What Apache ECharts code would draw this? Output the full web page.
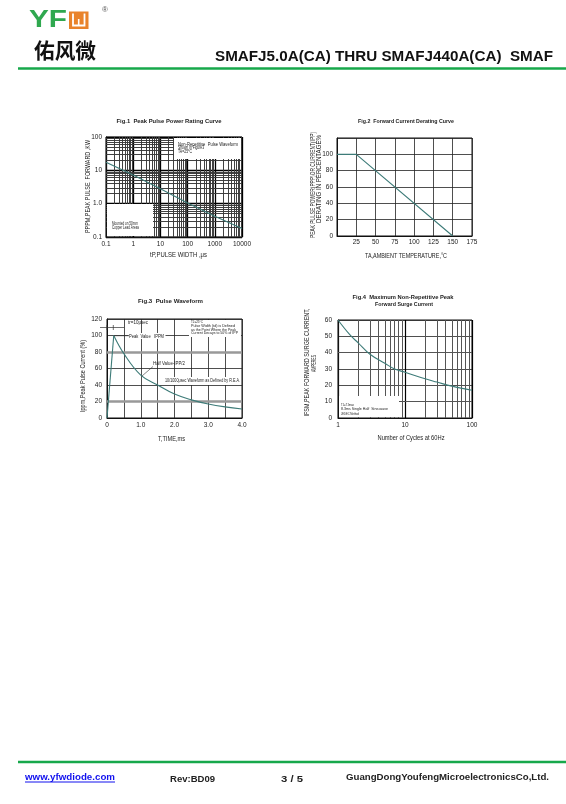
<!DOCTYPE html>
<html><head><meta charset="utf-8">
<script src="https://cdn.jsdelivr.net/npm/echarts@6/dist/echarts.min.js"></script>
<style>html,body{margin:0;padding:0;background:#fff}#c{width:566px;height:804px}</style>
</head><body><div id="c"></div>
<script>
// ---------------- data ----------------
const fig1PulseWidth = [0.1, 1, 10, 100, 1000, 10000];
const fig1PeakPower  = [17.5, 7.2, 2.8, 1.05, 0.42, 0.18];
const fig1XTicks = ['0.1', '1', '10', '100', '1000', '10000'];
const fig1YTicks = ['0.1', '1.0', '10', '100'];

const fig2Temp     = [0, 25, 150];
const fig2Derating = [100, 100, 0];
const fig2XTicks = ['', '25', '50', '75', '100', '125', '150', '175'];
const fig2YTicks = ['0', '20', '40', '60', '80', '100', ''];

const fig3Time    = [0, 0.2, 0.5, 1.0, 1.5, 2.0, 2.5, 3.0, 3.5, 4.0];
const fig3Current = [0, 100, 78, 52, 40, 29, 22, 17, 13.5, 11];
const fig3XTicks = ['0', '', '1.0', '', '2.0', '', '3.0', '', '4.0'];
const fig3YTicks = ['0', '20', '40', '60', '80', '100', '120'];

const fig4Cycles = [1, 1.5, 2, 3, 5, 7, 10, 20, 30, 50, 100];
const fig4Surge  = [60, 51, 46, 39, 33.5, 30, 28, 24, 22, 19.5, 17];
const fig4XTicks = ['1', '10', '100'];
const fig4YTicks = ['0', '10', '20', '30', '40', '50', '60'];

// ---------------- helpers ----------------
const FAM = '"Liberation Sans", Arial, sans-serif';
const CURVE = '#3d7b78';
const TXT = '#222';
const zip = (a, b) => a.map((v, i) => [v, b[i]]);
const logIdx = (v, minExp) => Math.round(Math.log10(v)) - minExp;
function logMinors(minExp, maxExp) {
  const out = [];
  for (let e = minExp; e < maxExp; e++)
    for (let k = 2; k <= 9; k++) out.push(+(k * Math.pow(10, e)).toPrecision(3));
  return out;
}
const mctx = document.createElement('canvas').getContext('2d');
function T(o) {
  const font = (o.bold ? 'bold ' : '') + o.size + 'px ' + (o.family || FAM);
  let sx = 1;
  if (o.w) { mctx.font = font; sx = o.w / mctx.measureText(o.text).width; }
  return {
    type: 'text', x: o.x, y: o.y, z: 101, silent: true,
    rotation: o.rot ? Math.PI / 2 : 0, scaleX: sx,
    style: { text: o.text, font: font, fill: o.color || TXT,
      align: o.align || 'center', verticalAlign: 'middle' }
  };
}
const R = (x, y, w, h, fill) => ({ type: 'rect', z: 100, silent: true,
  shape: { x, y, width: w, height: h }, style: { fill: fill || '#fff' } });
const L = (x1, y1, x2, y2, c, w) => ({ type: 'line', z: 101, silent: true,
  shape: { x1, y1, x2, y2 }, style: { stroke: c || '#222', lineWidth: w || 0.7 } });

const label = (m, arr, fn) => ({ fontSize: 6.5, color: TXT, fontFamily: FAM, margin: m,
  formatter: fn || ((v, i) => arr[i] !== undefined ? arr[i] : '') });
const baseAxis = (extra) => Object.assign({
  axisLine: { show: true, lineStyle: { color: '#111', width: 1 } },
  axisTick: { show: false },
  splitLine: { show: true, lineStyle: { color: '#222', width: 0.8 } }
}, extra);
const mk = (items, color, width) => ({
  symbol: ['none', 'none'], silent: true, animation: false,
  label: { show: false }, emphasis: { disabled: true },
  lineStyle: { color, width, type: 'solid' }, data: items
});
const gridBox = (left, top, width, height) => ({ left, top, width, height,
  show: true, borderColor: '#111', borderWidth: 1, backgroundColor: 'transparent' });

// ---------------- option ----------------
const option = {
  animation: false,
  backgroundColor: '#fff',
  grid: [
    gridBox(106, 137, 136, 100),
    gridBox(337, 138, 135, 98),
    gridBox(107, 319, 135, 99),
    gridBox(338, 320, 134, 98)
  ],
  xAxis: [
    baseAxis({ type: 'log', gridIndex: 0, min: 0.1, max: 10000, splitNumber: 5,
      axisLabel: label(4, null, v => fig1XTicks[logIdx(v, -1)] || ''),
      splitLine: { show: true, lineStyle: { color: '#000', width: 1.3 } } }),
    baseAxis({ type: 'value', gridIndex: 1, min: 0, max: 175, interval: 25,
      axisLabel: label(3, fig2XTicks) }),
    baseAxis({ type: 'value', gridIndex: 2, min: 0, max: 4, interval: 0.5,
      axisLabel: label(4, fig3XTicks) }),
    baseAxis({ type: 'log', gridIndex: 3, min: 1, max: 100, splitNumber: 2,
      axisLabel: label(4, null, v => fig4XTicks[logIdx(v, 0)] || ''),
      splitLine: { show: true, lineStyle: { color: '#000', width: 1.2 } } })
  ],
  yAxis: [
    baseAxis({ type: 'log', gridIndex: 0, min: 0.1, max: 100, splitNumber: 3,
      axisLabel: label(4, null, v => fig1YTicks[logIdx(v, -1)] || ''),
      splitLine: { show: true, lineStyle: { color: '#000', width: 1.3 } } }),
    baseAxis({ type: 'value', gridIndex: 1, min: 0, max: 120, interval: 20,
      axisLabel: label(4, fig2YTicks) }),
    baseAxis({ type: 'value', gridIndex: 2, min: 0, max: 120, interval: 20,
      axisLabel: label(5, fig3YTicks) }),
    baseAxis({ type: 'value', gridIndex: 3, min: 0, max: 60, interval: 10,
      axisLabel: label(6, fig4YTicks) })
  ],
  series: [
    // grid helpers (minor log lines, grey bands)
    { type: 'line', xAxisIndex: 0, yAxisIndex: 0, data: [], z: 1,
      markLine: mk(logMinors(-1, 4).map(v => ({ xAxis: v }))
        .concat(logMinors(-1, 2).map(v => ({ yAxis: v }))), '#383838', 0.95) },
    { type: 'line', xAxisIndex: 3, yAxisIndex: 3, data: [], z: 1,
      markLine: mk(logMinors(0, 2).map(v => ({ xAxis: v }))
        .concat([{ yAxis: 40 }, [{ coord: [10, 10] }, { coord: [100, 10] }]]), '#555', 1) },
    { type: 'line', xAxisIndex: 2, yAxisIndex: 2, data: [], z: 1,
      markLine: mk([{ yAxis: 20 }, { yAxis: 80 }], '#999', 2.5) },
    // curves
    { type: 'line', xAxisIndex: 0, yAxisIndex: 0, data: zip(fig1PulseWidth, fig1PeakPower),
      symbol: 'none', z: 5, lineStyle: { color: CURVE, width: 1.1 } },
    { type: 'line', xAxisIndex: 1, yAxisIndex: 1, data: zip(fig2Temp, fig2Derating),
      symbol: 'none', z: 5, lineStyle: { color: CURVE, width: 1.1 } },
    { type: 'line', xAxisIndex: 2, yAxisIndex: 2, data: zip(fig3Time, fig3Current).slice(0, 2),
      symbol: 'none', z: 5, lineStyle: { color: CURVE, width: 1.1 } },
    { type: 'line', xAxisIndex: 2, yAxisIndex: 2, data: zip(fig3Time, fig3Current).slice(1),
      symbol: 'none', z: 5, smooth: 0.4, lineStyle: { color: CURVE, width: 1.1 } },
    { type: 'line', xAxisIndex: 3, yAxisIndex: 3, data: zip(fig4Cycles, fig4Surge),
      symbol: 'none', z: 5, smooth: 0.4, lineStyle: { color: CURVE, width: 1.1 } }
  ],
  graphic: { elements: [
    // header
    T({ text: 'YF', x: 29, y: 20.5, size: 23, bold: true, w: 38, align: 'left', color: '#2fa84f' }),
    R(69, 11.5, 19.5, 17.5, '#e9832b'),
    { type: 'polyline', z: 102, silent: true, shape: { points: [[73, 13.5], [73, 25.5], [84.5, 25.5], [84.5, 13.5]] },
      style: { stroke: '#fff', lineWidth: 1.8, fill: null } },
    L(78.7, 19, 78.7, 25.5, '#fff', 1.6),
    T({ text: '®', x: 105, y: 9.5, size: 8, color: '#555' }),
    T({ text: '佑风微', x: 34, y: 50.5, size: 21, bold: true, w: 62, align: 'left', family: '"Noto Sans CJK SC"', color: '#111' }),
    T({ text: 'SMAFJ5.0A(CA) THRU SMAFJ440A(CA)  SMAF', x: 553, y: 57, size: 14, bold: true, w: 338, align: 'right', color: '#111' }),
    L(18, 68.5, 566, 68.5, '#17a84b', 2.5),
    // footer
    L(18, 762, 566, 762, '#17a84b', 2.5),
    T({ text: 'www.yfwdiode.com', x: 25, y: 777.5, size: 9, bold: true, w: 90, align: 'left', color: '#1010ee' }),
    L(25, 782, 115, 782, '#1010ee', 1),
    T({ text: 'Rev:BD09', x: 170, y: 779.5, size: 9, bold: true, w: 45, align: 'left' }),
    T({ text: '3 / 5', x: 281, y: 779.5, size: 9, bold: true, w: 22, align: 'left' }),
    T({ text: 'GuangDongYoufengMicroelectronicsCo,Ltd.', x: 346, y: 777.5, size: 9, bold: true, w: 203, align: 'left' }),

    // Fig.1
    T({ text: 'Fig.1  Peak Pulse Power Rating Curve', x: 169, y: 121, size: 5.5, bold: true, w: 105 }),
    T({ text: 'PPPM,PEAK PULSE  FORWARD ,KW', x: 88, y: 186.5, size: 6.5, rot: true, w: 93 }),
    T({ text: 'tP,PULSE WIDTH ,μs', x: 178.5, y: 255.5, size: 6.5, w: 57 }),
    R(174, 138, 67, 21),
    T({ text: 'Non-Repetitive  Pulse Waveform', x: 178, y: 144.5, size: 4.5, w: 60, align: 'left' }),
    T({ text: 'Shown in Figure3', x: 178, y: 148.2, size: 4.5, w: 26, align: 'left' }),
    T({ text: 'TA=25°C', x: 178, y: 151.9, size: 4.5, w: 14, align: 'left' }),
    R(107, 204, 46, 32),
    T({ text: 'Mounted on 50mm', x: 112, y: 223.5, size: 4.5, w: 26, align: 'left' }),
    T({ text: 'Copper Lead Areas', x: 112, y: 227.5, size: 4.5, w: 27, align: 'left' }),

    // Fig.2
    T({ text: 'Fig.2  Forward Current Derating Curve', x: 406, y: 121, size: 5.5, bold: true, w: 96 }),
    T({ text: 'PEAK PULSE POWER(PPP)OR CURRENT(IPP)', x: 313, y: 185, size: 6.5, rot: true, w: 106 }),
    T({ text: 'DERATING IN PERCENTAGE%', x: 319.5, y: 179, size: 6.5, rot: true, w: 88 }),
    T({ text: 'TA,AMBIENT TEMPERATURE,°C', x: 406, y: 256.5, size: 6.5, w: 82 }),

    // Fig.3
    T({ text: 'Fig.3  Pulse Waveform', x: 170.5, y: 301, size: 5.5, bold: true, w: 65 }),
    T({ text: 'Ippm,Peak Pulse Current (%)', x: 83, y: 376, size: 6.5, rot: true, w: 72 }),
    T({ text: 'T,TIME,ms', x: 171.5, y: 439, size: 6.5, w: 27 }),
    L(100, 327.5, 124, 327.5, '#333', 0.7),
    L(107, 325, 107, 330, '#333', 0.7),
    L(113.3, 325, 113.3, 330, '#333', 0.7),
    T({ text: 'tr=10μsec', x: 128, y: 323, size: 4.8, w: 20, align: 'left' }),
    L(114, 335.7, 129, 335.7, '#333', 0.7),
    R(128.5, 333, 37, 6),
    T({ text: 'Peak  Value   IPPM', x: 129, y: 336.5, size: 4.8, w: 35, align: 'left' }),
    T({ text: 'Half Value-IPP/2', x: 153, y: 364, size: 4.8, w: 32, align: 'left' }),
    L(153, 366.5, 142, 376, '#333', 0.6),
    R(163, 377, 78, 8),
    T({ text: '10/1000μsec Waveform as Defined by R.E.A.', x: 165, y: 381, size: 4.8, w: 75, align: 'left' }),
    R(189, 320, 52, 17),
    T({ text: 'TJ=25°C', x: 191, y: 322.3, size: 3.8, w: 12, align: 'left' }),
    T({ text: 'Pulse Width (td) is Defined', x: 191, y: 326, size: 3.8, w: 44, align: 'left' }),
    T({ text: 'as the Point Where the Peak', x: 191, y: 329.7, size: 3.8, w: 45, align: 'left' }),
    T({ text: 'Current Decays to 50% of IPP', x: 191, y: 333.4, size: 3.8, w: 47, align: 'left' }),

    // Fig.4
    T({ text: 'Fig.4  Maximum Non-Repetitive Peak', x: 403, y: 297, size: 5.5, bold: true, w: 101 }),
    T({ text: 'Forward Surge Current', x: 404, y: 304, size: 5.5, bold: true, w: 58 }),
    T({ text: 'IFSM,PEAK FORWARD SURGE CURRENT,', x: 307.5, y: 362.5, size: 6.5, rot: true, w: 108 }),
    T({ text: 'AMPERES', x: 314.5, y: 363.5, size: 6.5, rot: true, w: 17 }),
    T({ text: 'Number of Cycles at 60Hz', x: 411, y: 438, size: 6.5, w: 67 }),
    R(339, 396, 60, 21),
    T({ text: 'TJ=TJmax', x: 341, y: 405, size: 4.2, w: 13, align: 'left' }),
    T({ text: '8.3ms Single Half  Sine-wave', x: 341, y: 409.3, size: 4.2, w: 47, align: 'left' }),
    T({ text: 'JEDEC Method', x: 341, y: 413.5, size: 4.2, w: 18, align: 'left' })
  ] }
};
const chart = echarts.init(document.getElementById('c'), null, { renderer: 'canvas' });
chart.setOption(option);
</script></body></html>
